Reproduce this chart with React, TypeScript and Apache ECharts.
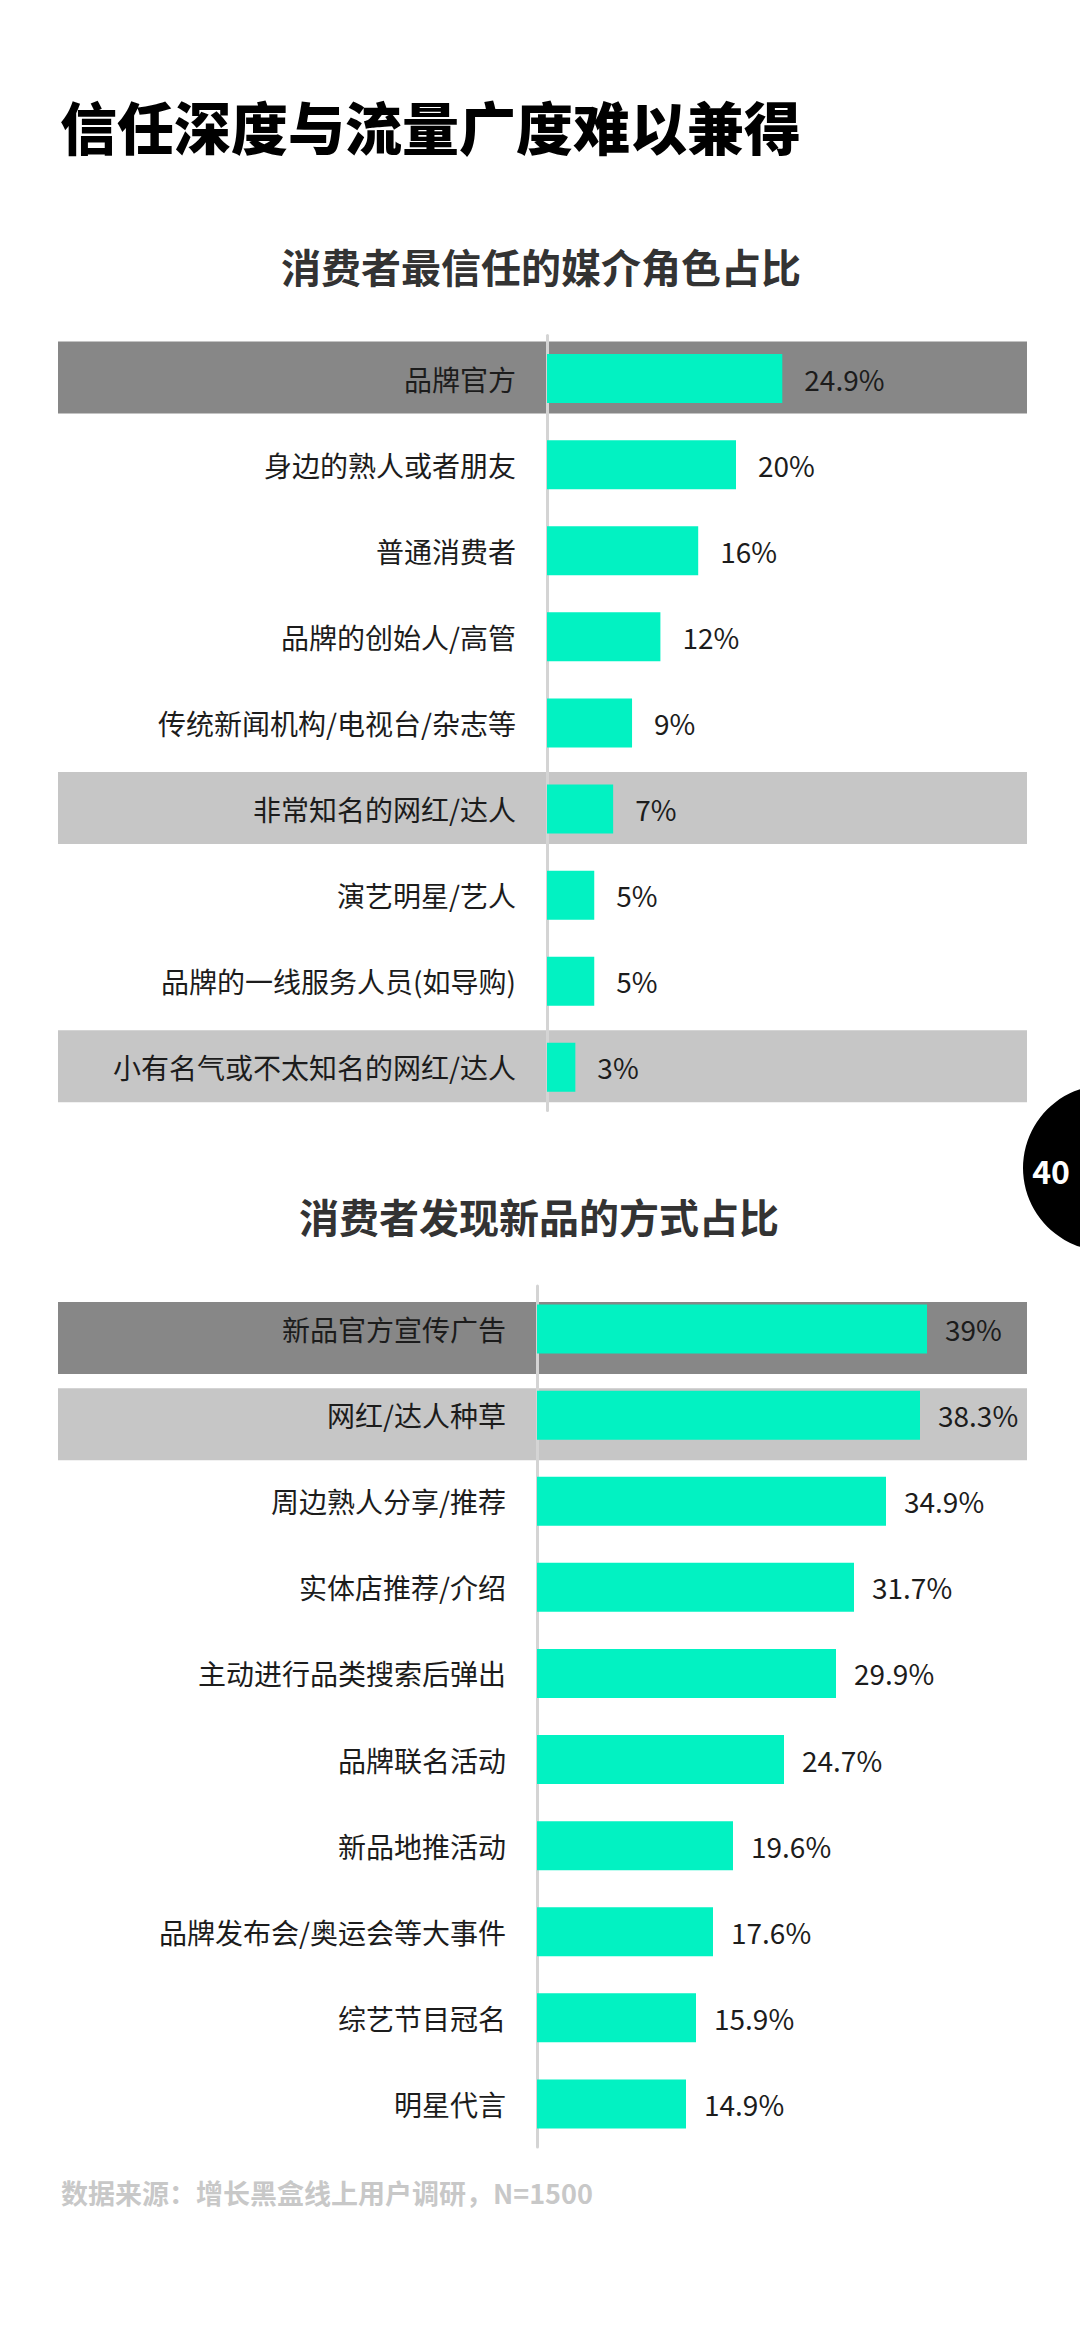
import React, { useEffect, useRef } from "react";
import * as echarts from "echarts";

// 消费者最信任的媒介角色占比
const roleCategories = [
  "品牌官方",
  "身边的熟人或者朋友",
  "普通消费者",
  "品牌的创始人/高管",
  "传统新闻机构/电视台/杂志等",
  "非常知名的网红/达人",
  "演艺明星/艺人",
  "品牌的一线服务人员(如导购)",
  "小有名气或不太知名的网红/达人",
];
const roleValues = [24.9, 20, 16, 12, 9, 7, 5, 5, 3];
const roleDarkRows = ["品牌官方"];
const roleLightRows = ["非常知名的网红/达人", "小有名气或不太知名的网红/达人"];

// 消费者发现新品的方式占比
const discoverCategories = [
  "新品官方宣传广告",
  "网红/达人种草",
  "周边熟人分享/推荐",
  "实体店推荐/介绍",
  "主动进行品类搜索后弹出",
  "品牌联名活动",
  "新品地推活动",
  "品牌发布会/奥运会等大事件",
  "综艺节目冠名",
  "明星代言",
];
const discoverValues = [39, 38.3, 34.9, 31.7, 29.9, 24.7, 19.6, 17.6, 15.9, 14.9];
const discoverDarkRows = ["新品官方宣传广告"];
const discoverLightRows = ["网红/达人种草"];

const W = 1080;
const H = 2339;
const FONT = '"Noto Sans CJK SC", "Noto Sans", sans-serif';
const BAR = "#02f2c2";
const DARK = "#878787";
const LIGHT = "#c6c6c6";
const TEXT = "#1c1c1c";

const BAND_LEFT = 58;
const BAND_RIGHT = 1027;

function bandRows(cats: string[], dark: string[], light: string[]) {
  const rows: { value: [number, number]; fill: string }[] = [];
  cats.forEach((c, i) => {
    if (dark.includes(c)) rows.push({ value: [0, i], fill: DARK });
    else if (light.includes(c)) rows.push({ value: [0, i], fill: LIGHT });
  });
  return rows;
}

export default function App() {
  const ref = useRef<HTMLDivElement>(null);

  useEffect(() => {
    document.body.style.margin = "0";
    if (!ref.current) return;
    const chart = echarts.init(ref.current, null, { renderer: "svg" });

    const panels = [
      { cats: roleCategories, vals: roleValues, bands: bandRows(roleCategories, roleDarkRows, roleLightRows), zeroX: 547, pxPer: 9.45, top: 335.5, rowH: 86.1, bandShift: -1, labelGap: 22 },
      { cats: discoverCategories, vals: discoverValues, bands: bandRows(discoverCategories, discoverDarkRows, discoverLightRows), zeroX: 537, pxPer: 10.0, top: 1286, rowH: 86.1, bandShift: 9, labelGap: 18 },
    ];

    const grids: any[] = [];
    const xAxes: any[] = [];
    const yAxes: any[] = [];
    const series: any[] = [];

    panels.forEach((p, k) => {
      grids.push({
        left: BAND_LEFT,
        width: BAND_RIGHT - BAND_LEFT,
        top: p.top,
        height: p.rowH * p.cats.length,
        containLabel: false,
        outerBoundsMode: "none",
      });
      xAxes.push({
        type: "value",
        gridIndex: k,
        min: -(p.zeroX - BAND_LEFT) / p.pxPer,
        max: (BAND_RIGHT - p.zeroX) / p.pxPer,
        show: false,
      });
      yAxes.push({
        type: "category",
        gridIndex: k,
        data: p.cats,
        inverse: true,
        axisTick: { show: false },
        axisLine: { onZero: true, lineStyle: { color: "#d4d4d4", width: 3 } },
        axisLabel: { show: false },
        splitLine: { show: false },
        z: 1,
      });
      // highlight bands behind selected rows
      series.push({
        type: "custom",
        xAxisIndex: k,
        yAxisIndex: k,
        z: -1,
        silent: true,
        data: p.bands,
        encode: { x: 0, y: 1 },
        renderItem: (params: any, api: any) => {
          const c = api.coord([0, api.value(1)]);
          const cs = params.coordSys;
          const h = 72;
          return {
            type: "rect",
            shape: { x: cs.x, y: c[1] - h / 2 + p.bandShift, width: cs.width, height: h },
            style: { fill: p.bands[params.dataIndex].fill },
          };
        },
      });
      // category names, right-aligned against the zero line
      series.push({
        type: "custom",
        xAxisIndex: k,
        yAxisIndex: k,
        z: 4,
        silent: true,
        data: p.cats.map((_, i) => [0, i]),
        encode: { x: 0, y: 1 },
        renderItem: (params: any, api: any) => {
          const c = api.coord([0, api.value(1)]);
          return {
            type: "text",
            x: c[0] - 31,
            y: c[1],
            style: {
              text: p.cats[params.dataIndex],
              fill: TEXT,
              fontSize: 28,
              fontFamily: FONT,
              align: "right",
              verticalAlign: "middle",
            },
          };
        },
      });
      series.push({
        type: "bar",
        xAxisIndex: k,
        yAxisIndex: k,
        data: p.vals,
        barWidth: 49,
        itemStyle: { color: BAR },
        z: 3,
        label: {
          show: true,
          position: "right",
          distance: p.labelGap,
          fontSize: 28,
          color: TEXT,
          fontFamily: FONT,
          formatter: (d: any) => `${d.value}%`,
        },
      });
    });

    chart.setOption({
      animation: false,
      backgroundColor: "#ffffff",
      textStyle: { fontFamily: FONT },
      grid: grids,
      xAxis: xAxes,
      yAxis: yAxes,
      series,
      graphic: [
        {
          type: "text",
          x: 60,
          y: 125,
          style: { text: "信任深度与流量广度难以兼得", fill: "#000", font: `900 57px ${FONT}`, textAlign: "left", textVerticalAlign: "middle" },
        },
        {
          type: "text",
          x: 541,
          y: 266,
          style: { text: "消费者最信任的媒介角色占比", fill: "#333", font: `bold 40px ${FONT}`, textAlign: "center", textVerticalAlign: "middle" },
        },
        {
          type: "text",
          x: 539,
          y: 1216,
          style: { text: "消费者发现新品的方式占比", fill: "#333", font: `bold 40px ${FONT}`, textAlign: "center", textVerticalAlign: "middle" },
        },
        {
          type: "text",
          x: 61,
          y: 2192,
          style: { text: "数据来源：增长黑盒线上用户调研，N=1500", fill: "#c8c8c8", font: `bold 27px ${FONT}`, textAlign: "left", textVerticalAlign: "middle" },
        },
        { type: "circle", shape: { cx: 1106, cy: 1168, r: 83 }, style: { fill: "#000" } },
        {
          type: "text",
          x: 1051,
          y: 1170,
          style: { text: "40", fill: "#fff", font: `bold 32px ${FONT}`, textAlign: "center", textVerticalAlign: "middle" },
        },
      ],
    });

    return () => chart.dispose();
  }, []);

  return <div ref={ref} style={{ width: W, height: H }} />;
}
